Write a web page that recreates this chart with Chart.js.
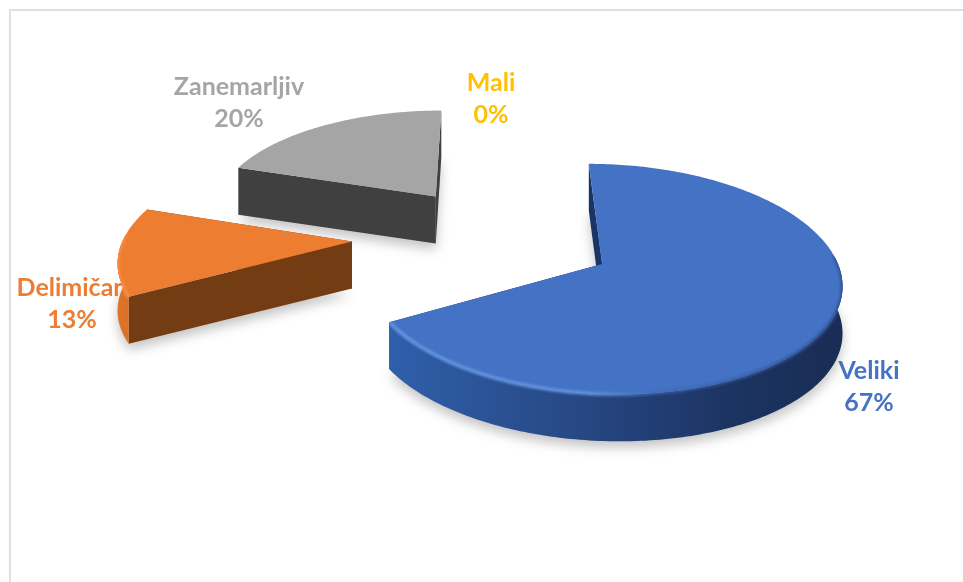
<!DOCTYPE html>
<html>
<head>
<meta charset="utf-8">
<title>Pie</title>
<script src="https://cdn.jsdelivr.net/npm/chart.js@4/dist/chart.umd.min.js"></script>
<style>
  html, body { margin: 0; padding: 0; background: #fff; overflow: hidden; }
  #frame { position: absolute; left: 9px; top: 9px; width: 954px; height: 573px;
           border-left: 2.5px solid #e0e0e0; border-top: 2.5px solid #e0e0e0; box-sizing: border-box; }
  #pie { position: absolute; left: 0; top: 0; }
</style>
</head>
<body>
<div id="frame"></div>
<canvas id="pie" width="963" height="582"></canvas>
<script>
const categories = ['Veliki', 'Delimičan', 'Zanemarljiv', 'Mali'];
const shares = [67, 13, 20, 0];

const sliceColors = ['#4472C4', '#ED7D31', '#A5A5A5', '#FFC000'];
const explode = [120, 147, 110, 0];
const labelSpots = [[869, 371], [72, 288], [239, 87], [491, 83]];
const LINE_GAP = 32;

// side wall colours, left to right across each slice
const wallStops = [
  ['#2f5fab', '#2b5193', '#24437c', '#1c3462', '#192c54'],
  ['#e07428', '#c4651f', '#743c12', '#743c12', '#743c12'],
  ['#404040', '#404040', '#404040', '#404040', '#404040']
];
const cutWalls = ['#1a3468', '#743c12', '#404040'];

// tilted view of the pie plane, lines running back meet at VP
const VP_X = 487, VP_Y = -600;
const PLANE_X = 497, PLANE_Y = 250;
const CENTER_V = -32;
const PERSP = 5.56e-4;
const DEPTH = 47;

function project(chart, x, y) {
  const u = x - (chart.chartArea.left + chart.chartArea.width / 2);
  const v = y - (chart.chartArea.top + chart.chartArea.height / 2) + CENTER_V;
  const f = 1 / (1 - PERSP * v);
  return [VP_X + (PLANE_X - VP_X + u) * f, VP_Y + (PLANE_Y - VP_Y) * f];
}

function sliceOutline(chart, arc) {
  const p = arc.getProps(['x', 'y', 'startAngle', 'endAngle', 'outerRadius'], true);
  const mid = (p.startAngle + p.endAngle) / 2;
  const ax = p.x + Math.cos(mid) * arc.options.offset;
  const ay = p.y + Math.sin(mid) * arc.options.offset;
  const rim = [];
  const front = [];
  const steps = Math.ceil((p.endAngle - p.startAngle) / (Math.PI / 180));
  for (let i = 0; i <= steps; i++) {
    const a = p.startAngle + (p.endAngle - p.startAngle) * i / steps;
    const pt = project(chart, ax + Math.cos(a) * p.outerRadius, ay + Math.sin(a) * p.outerRadius);
    rim.push(pt);
    if (Math.sin(a) > -0.06) front.push(pt);
  }
  return { apex: project(chart, ax, ay), rim: rim, front: front };
}

function tracePoly(ctx, pts, dy) {
  ctx.beginPath();
  pts.forEach((pt, i) => {
    if (i === 0) ctx.moveTo(pt[0], pt[1] + dy);
    else ctx.lineTo(pt[0], pt[1] + dy);
  });
}

function fillCut(ctx, a, b, fill) {
  ctx.fillStyle = fill;
  tracePoly(ctx, [a, b, [b[0], b[1] + DEPTH], [a[0], a[1] + DEPTH]], 0);
  ctx.closePath();
  ctx.fill();
}

function bevelFor(ctx, i, minX, maxX) {
  const g = ctx.createLinearGradient(minX, 0, maxX, 0);
  if (i === 0) {
    g.addColorStop(0, 'rgba(100,148,222,0.95)');
    g.addColorStop(0.45, 'rgba(100,148,222,0.85)');
    g.addColorStop(0.6, 'rgba(62,104,178,0.6)');
    g.addColorStop(1, 'rgba(42,74,134,0.75)');
  } else {
    g.addColorStop(0, 'rgba(246,142,72,0.9)');
    g.addColorStop(1, 'rgba(246,142,72,0.9)');
  }
  return g;
}

const pie3d = {
  id: 'pie3d',
  // the flat arcs are replaced by the tilted solids below
  beforeDatasetDraw() {
    return false;
  },
  afterDatasetsDraw(chart) {
    const ctx = chart.ctx;
    const arcs = chart.getDatasetMeta(0).data;

    ctx.save();
    ctx.font = '700 25px Lato';
    ctx.textAlign = 'center';
    ctx.textBaseline = 'middle';
    categories.forEach((name, i) => {
      ctx.fillStyle = sliceColors[i];
      ctx.fillText(name, labelSpots[i][0], labelSpots[i][1]);
      ctx.fillText(shares[i] + '%', labelSpots[i][0], labelSpots[i][1] + LINE_GAP);
    });
    ctx.restore();

    // back to front: grey, orange, blue
    [2, 1, 0].forEach(i => {
      const s = sliceOutline(chart, arcs[i]);
      const top = [s.apex].concat(s.rim);
      const xs = top.map(pt => pt[0]);
      const minX = Math.min(...xs), maxX = Math.max(...xs);

      ctx.save();
      ctx.filter = 'blur(6px)';
      ctx.fillStyle = 'rgba(90,90,90,0.36)';
      tracePoly(ctx, top, DEPTH + 6);
      ctx.closePath();
      ctx.fill();
      ctx.restore();

      ctx.save();
      fillCut(ctx, s.rim[0], s.apex, cutWalls[i]);
      fillCut(ctx, s.apex, s.rim[s.rim.length - 1], cutWalls[i]);

      const lower = s.front.slice().reverse().map(pt => [pt[0], pt[1] + DEPTH]);
      if (s.front.length > 1) {
        const wall = ctx.createLinearGradient(minX, 0, maxX, 0);
        wallStops[i].forEach((c, k) => wall.addColorStop(k / 4, c));
        tracePoly(ctx, s.front.concat(lower), 0);
        ctx.closePath();
        ctx.fillStyle = wall;
        ctx.fill();
      }

      tracePoly(ctx, top, 0);
      ctx.closePath();
      ctx.fillStyle = arcs[i].options.backgroundColor;
      ctx.fill();

      // soft bevel where the top face turns into the rim wall, kept inside the solid
      if (s.front.length > 1) {
        const solid = new Path2D();
        top.forEach((pt, k) => k === 0 ? solid.moveTo(pt[0], pt[1]) : solid.lineTo(pt[0], pt[1]));
        solid.closePath();
        s.front.concat(lower).forEach((pt, k) => k === 0 ? solid.moveTo(pt[0], pt[1]) : solid.lineTo(pt[0], pt[1]));
        solid.closePath();
        ctx.clip(solid, 'nonzero');
        ctx.filter = 'blur(1.2px)';
        ctx.strokeStyle = bevelFor(ctx, i, minX, maxX);
        ctx.lineWidth = 4;
        ctx.lineCap = 'round';
        tracePoly(ctx, s.front, 0);
        ctx.stroke();
      }
      ctx.restore();
    });
  }
};

new Chart(document.getElementById('pie'), {
  type: 'pie',
  data: {
    labels: categories,
    datasets: [{
      data: shares,
      backgroundColor: sliceColors,
      offset: explode,
      borderWidth: 0
    }]
  },
  options: {
    responsive: false,
    animation: false,
    radius: 232,
    layout: { padding: 0 },
    events: [],
    plugins: {
      legend: { display: false },
      tooltip: { enabled: false }
    }
  },
  plugins: [pie3d]
});
</script>
</body>
</html>
